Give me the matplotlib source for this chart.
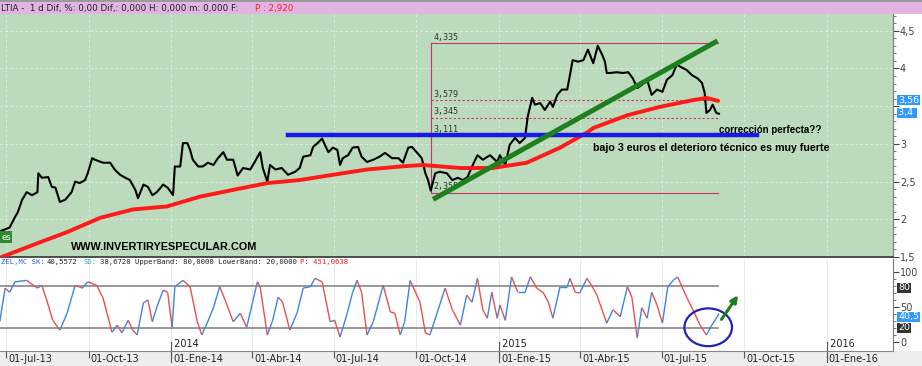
import numpy as np
import pandas as pd
import matplotlib
matplotlib.use("Agg")
from matplotlib import pyplot as plt
import matplotlib.dates as mdates
from matplotlib.collections import LineCollection
from matplotlib.patches import Ellipse, Rectangle

start = pd.Timestamp('2013-07-01')

# ***** price data: days counted from 01-Jul-2013 *****#
price_days = [-7, 4, 10, 13, 18, 23, 29, 35, 36, 40, 47, 51, 55, 60, 66, 73, 77, 82, 88, 91,
              96, 99, 108, 116, 121, 127, 133, 138, 144, 147, 153, 158, 163, 168, 175, 180, 186, 188, 194, 197,
              202, 205, 208, 214, 219, 225, 231, 236, 242, 246, 253, 258, 264, 272, 277, 283, 286, 291, 294, 300,
              307, 314, 322, 327, 331, 339, 342, 347, 352, 355, 359, 364, 369, 372, 375, 381, 386, 392, 396, 402,
              409, 416, 422, 430, 437, 442, 448, 452, 458, 463, 467, 470, 473, 478, 483, 491, 497, 503, 509, 514,
              519, 525, 531, 539, 547, 550, 556, 561, 567, 572, 578, 581, 586, 589, 595, 600, 606, 609, 614, 619,
              625, 628, 631, 637, 643, 648, 654, 659, 664, 667, 669, 673, 680, 687, 693, 698, 703, 708, 714, 719,
              725, 731, 736, 742, 747, 753, 758, 764, 770, 775, 778, 780, 784, 787, 791, 794]
price_close = [1.84, 1.89, 2.03, 2.09, 2.26, 2.36, 2.32, 2.36, 2.61, 2.55, 2.56, 2.43, 2.42, 2.23, 2.26, 2.36, 2.50, 2.48, 2.52, 2.61,
               2.81, 2.79, 2.75, 2.75, 2.66, 2.59, 2.55, 2.52, 2.39, 2.28, 2.46, 2.43, 2.32, 2.36, 2.46, 2.42, 2.32, 2.70, 2.70, 3.01,
               3.01, 2.92, 2.79, 2.70, 2.70, 2.75, 2.72, 2.81, 2.89, 2.79, 2.79, 2.58, 2.68, 2.66, 2.76, 2.89, 2.68, 2.50, 2.72, 2.66,
               2.68, 2.59, 2.63, 2.68, 2.83, 2.85, 2.96, 3.01, 3.07, 2.99, 2.89, 2.95, 2.92, 2.72, 2.81, 2.85, 2.95, 2.96, 2.83, 2.76,
               2.79, 2.83, 2.88, 2.81, 2.81, 2.75, 2.95, 2.96, 2.88, 2.81, 2.61, 2.52, 2.38, 2.61, 2.63, 2.61, 2.52, 2.55, 2.52, 2.56,
               2.70, 2.85, 2.79, 2.85, 2.76, 2.85, 2.72, 2.99, 3.08, 3.01, 3.08, 3.36, 3.61, 3.52, 3.54, 3.45, 3.56, 3.49, 3.65, 3.72,
               3.72, 3.91, 4.11, 4.09, 4.11, 4.25, 4.07, 4.30, 4.18, 4.09, 3.94, 3.94, 3.95, 3.94, 3.95, 3.87, 3.74, 3.78, 3.85, 3.65,
               3.72, 3.69, 3.85, 3.91, 4.05, 4.01, 3.98, 3.91, 3.87, 3.81, 3.68, 3.41, 3.45, 3.52, 3.41, 3.40]

# red moving average
ma_days = [-7, 30, 68, 105, 141, 179, 216, 253, 291, 327, 364, 402, 439, 464, 506, 542, 580, 617, 647, 654,
           692, 728, 765, 780, 793]
ma_values = [1.49, 1.66, 1.83, 2.02, 2.13, 2.17, 2.30, 2.39, 2.48, 2.52, 2.59, 2.66, 2.70, 2.72, 2.68, 2.68, 2.75, 2.95, 3.15, 3.21,
             3.38, 3.49, 3.58, 3.61, 3.57]

# stochastic %K
stoch_days = [-7, -1, 4, 10, 23, 35, 40, 46, 52, 60, 68, 77, 85, 91, 101, 108, 118, 124, 129, 136,
              141, 146, 153, 158, 163, 168, 175, 180, 185, 188, 197, 205, 213, 218, 224, 231, 238, 244, 253, 261,
              268, 280, 283, 291, 297, 303, 308, 316, 324, 331, 339, 344, 352, 361, 366, 372, 380, 386, 391, 396,
              402, 409, 420, 428, 433, 439, 444, 450, 461, 467, 472, 480, 489, 497, 502, 506, 513, 519, 525, 531,
              536, 541, 547, 550, 556, 563, 570, 578, 584, 591, 598, 604, 609, 617, 625, 628, 634, 639, 647, 653,
              658, 669, 676, 684, 692, 697, 703, 708, 714, 719, 725, 731, 737, 743, 748, 758, 765, 773, 780, 786,
              792, 794]
stoch_k = [29, 77, 71, 86, 88, 77, 81, 57, 31, 17, 41, 81, 77, 86, 81, 63, 14, 24, 13, 31,
           17, 10, 56, 60, 29, 50, 74, 71, 21, 79, 88, 79, 29, 10, 27, 49, 79, 60, 29, 41,
           21, 86, 79, 10, 31, 64, 57, 17, 41, 77, 79, 91, 86, 29, 31, 7, 41, 71, 88, 71,
           10, 29, 81, 43, 41, 10, 29, 88, 57, 13, 10, 41, 77, 46, 34, 24, 67, 57, 91, 46,
           34, 71, 34, 53, 31, 93, 71, 71, 93, 77, 71, 57, 34, 79, 79, 91, 71, 70, 91, 79,
           67, 27, 46, 36, 79, 64, 6, 49, 34, 71, 53, 27, 79, 88, 93, 64, 46, 24, 10, 24,
           36, 40.6]

fib_levels = [4.335, 3.579, 3.345, 3.111, 2.355]
fib_labels = ['4,335', '3,579', '3,345', '3,111', '2,355']
fib_start, fib_end = 473, 793
support_level, support_start, support_end = 3.12, 314, 836
trend_days, trend_values = [478, 790], [2.28, 4.35]

quarter_dates = ['2013-07-01', '2013-10-01', '2014-01-01', '2014-04-01', '2014-07-01', '2014-10-01',
                 '2015-01-01', '2015-04-01', '2015-07-01', '2015-10-01', '2016-01-01']
quarter_labels = ['01-Jul-13', '01-Oct-13', '01-Ene-14', '01-Abr-14', '01-Jul-14', '01-Oct-14',
                  '01-Ene-15', '01-Abr-15', '01-Jul-15', '01-Oct-15', '01-Ene-16']
year_dates = ['2014-01-01', '2015-01-01', '2016-01-01']
year_labels = ['2014', '2015', '2016']


def d2n(days):
    return mdates.date2num(start + pd.to_timedelta(np.asarray(days, dtype=float), unit='D'))


W, H = 922, 366
fig = plt.figure(figsize=(W / 100, H / 100), dpi=100)
fig.patch.set_facecolor('white')

# background strips (behind axes)
fig.patches.append(Rectangle((0, 1 - 14 / H), 1, 12 / H, transform=fig.transFigure,
                             facecolor='#e2b4e2', edgecolor='none', zorder=-5))
fig.patches.append(Rectangle((0, 1 - 2 / H), 1, 2 / H, transform=fig.transFigure,
                             facecolor='#9a9a9a', edgecolor='none', zorder=-5))
fig.patches.append(Rectangle((0, 0), 1, 15 / H, transform=fig.transFigure,
                             facecolor='#ededed', edgecolor='none', zorder=-5))

green_bg = '#bcdbbc'
ax = fig.add_axes([0, 1 - 257 / H, 893 / W, 243 / H])
ax2 = fig.add_axes([0, 1 - 351 / H, 893 / W, 92 / H])

xlim = (d2n([-6.7])[0], d2n([987.8])[0])
qn = mdates.date2num(pd.to_datetime(quarter_dates))
yn = mdates.date2num(pd.to_datetime(year_dates))

# ---- main price panel ----
ax.set_facecolor(green_bg)
for q in qn:
    ax.axvline(q, color='#e4efe4', lw=0.6, ls=(0, (3, 3)), zorder=0)
for lv in np.arange(1.5, 4.75, 0.5):
    ax.axhline(lv, color='#e4efe4', lw=0.6, ls=(0, (3, 3)), zorder=0)

ax.plot(d2n(price_days), price_close, color='black', lw=1.5, zorder=3)
ax.plot(d2n(ma_days), ma_values, color='#ff1a1a', lw=2.8, zorder=4, solid_capstyle='round')

fib_col = '#cc3366'
ax.plot(d2n([fib_start, fib_start]), [fib_levels[-1], fib_levels[0]], color=fib_col, lw=0.8, zorder=2)
for lv, lb in zip(fib_levels, fib_labels):
    ls = '-' if lv in (fib_levels[0], fib_levels[-1]) else (0, (2, 2))
    ax.plot(d2n([fib_start, fib_end]), [lv, lv], color=fib_col, lw=0.8, ls=ls, zorder=2)
    ax.text(d2n([fib_start + 3])[0], lv + 0.02, lb, fontsize=6, color='#333333',
            va='bottom', ha='left', family='DejaVu Sans Mono', zorder=5)

ax.plot(d2n([support_start, support_end]), [support_level] * 2, color='#1a1ae6', lw=3.2, zorder=6)
ax.plot(d2n(trend_days), trend_values, color='#1e7f1e', lw=3.6, zorder=6)

ax.text(d2n([794])[0], 3.19, 'corrección perfecta??', fontsize=7, fontweight='bold',
        family='Liberation Sans', va='center', ha='left', zorder=7)
ax.text(d2n([654])[0], 2.95, 'bajo 3 euros el deterioro técnico es muy fuerte', fontsize=7.7,
        fontweight='bold', family='Liberation Sans', va='center', ha='left', zorder=7)
ax.text(d2n([72])[0], 1.63, 'WWW.INVERTIRYESPECULAR.COM', fontsize=7.8, fontweight='bold',
        family='Liberation Sans', va='center', ha='left', zorder=7)

ax.set_xlim(xlim)
ax.set_ylim(1.503, 4.722)
ax.set_xticks([])
ax.yaxis.tick_right()
ax.set_yticks(np.arange(1.5, 4.75, 0.5))
ax.set_yticks(np.arange(1.5, 4.75, 0.1), minor=True)
ax.set_yticklabels([('%g' % v).replace('.', ',') if abs(v - 3.5) > 0.01 else ''
                    for v in np.arange(1.5, 4.75, 0.5)])
ax.tick_params(axis='y', which='major', length=4, labelsize=7, colors='#444444', pad=1)
ax.tick_params(axis='y', which='minor', length=2, colors='#666666')
for s in ['top', 'left']:
    ax.spines[s].set_visible(False)
ax.spines['right'].set_color('#777777')
ax.spines['bottom'].set_color('#333333')
ax.spines['bottom'].set_linewidth(1.2)

# ---- stochastic panel ----
ax2.set_facecolor('white')
for q in qn:
    ax2.axvline(q, color='#e6e6e6', lw=0.6, zorder=0)
band_end = d2n([793])[0]
band_start = xlim[0]
ax2.plot([band_start, band_end], [80, 80], color='#888888', lw=1.2, zorder=1)
ax2.plot([band_start, band_end], [20, 20], color='#888888', lw=1.2, zorder=1)

sx = d2n(stoch_days)
sk = np.asarray(stoch_k, dtype=float)
segs = [[(sx[i], sk[i]), (sx[i + 1], sk[i + 1])] for i in range(len(sx) - 1)]
cols = ['#3d85e0' if sk[i + 1] >= sk[i] else '#e85050' for i in range(len(sx) - 1)]
ax2.add_collection(LineCollection(segs, colors=cols, linewidths=1.0, zorder=3))

ax2.add_patch(Ellipse((d2n([782])[0], 21), width=d2n([808])[0] - d2n([755])[0], height=54,
                      fill=False, edgecolor='#2222bb', lw=1.6, zorder=5))
ax2.annotate('', xy=(d2n([817])[0], 70), xytext=(d2n([795])[0], 29),
             arrowprops=dict(arrowstyle='-|>', color='#1e7f1e', lw=2.2, mutation_scale=10), zorder=6)

ax2.set_xlim(xlim)
ax2.set_ylim(-12.9, 118.6)
ax2.yaxis.tick_right()
ax2.set_yticks([0, 50, 100])
ax2.set_yticklabels(['0', '50', '100'])
ax2.set_yticks([10, 20, 30, 40, 60, 70, 80, 90], minor=True)
ax2.tick_params(axis='y', which='major', length=4, labelsize=7, colors='#444444', pad=1)
ax2.tick_params(axis='y', which='minor', length=2, colors='#666666')
ax2.set_xticks(qn)
ax2.set_xticklabels([])
ax2.tick_params(axis='x', direction='out', length=5, colors='#555555')
for s in ['top', 'left']:
    ax2.spines[s].set_visible(False)
ax2.spines['right'].set_color('#777777')
ax2.spines['bottom'].set_color('#888888')

for q, lb in zip(qn, quarter_labels):
    ax2.annotate(lb, xy=(q, 0), xycoords=('data', 'axes fraction'), xytext=(1.5, -2),
                 textcoords='offset points', va='top', ha='left', fontsize=7, color='#222222',
                 annotation_clip=False)
for q, lb in zip(yn, year_labels):
    ax2.plot([q, q], [-0.12, 0.1], transform=ax2.get_xaxis_transform(), color='#555555',
             lw=0.8, clip_on=False)
    ax2.text(q, 0.02, ' ' + lb, transform=ax2.get_xaxis_transform(), fontsize=7,
             color='#222222', va='bottom', ha='left')

# ---- header texts and value boxes ----
hy = 1 - 8 / H
fig.text(1 / W, hy, 'LTIA -  1 d Dif, %: 0,00 Dif,: 0,000 H: 0,000 m: 0,000 F:', fontsize=6.3,
         va='center', ha='left', color='#222222')
fig.text(255 / W, hy, 'P : 2,920', fontsize=6.3, va='center', ha='left', color='#ee2222')

iy = 1 - 262 / H
parts = [(1, 'ZEL,MC SK:', '#3366cc'), (47, '40,5572', '#222222'), (83, 'SD:', '#3399ee'),
         (100, '38,6720 UpperBand: 80,0000 LowerBand: 20,0000', '#222222'), (300, 'P: 451,0638', '#ee2222')]
for px, t, c in parts:
    fig.text(px / W, iy, t, fontsize=5.2, va='center', ha='left', color=c, family='DejaVu Sans Mono')

for py, t, bc in [(100, '3,56', '#3399ff'), (113, '3,4 ', '#3399ff'), (288, '80', '#333333'),
                  (328, '20', '#333333'), (317, '40,5', '#3399ff')]:
    fig.text(898 / W, 1 - py / H, t, fontsize=6.8, va='center', ha='left', color='white',
             bbox=dict(boxstyle='square,pad=0.1', facecolor=bc, edgecolor='none'), zorder=10)

fig.text(1 / W, 1 - 237 / H, 'es', fontsize=6, va='center', ha='left', color='white',
         bbox=dict(boxstyle='square,pad=0.15', facecolor='#2e8b2e', edgecolor='none'), zorder=10)

plt.savefig('out.png', dpi=100)
plt.close()
